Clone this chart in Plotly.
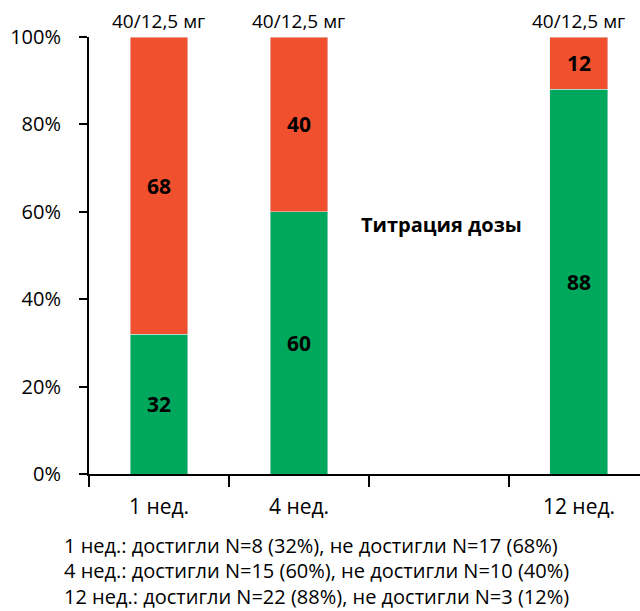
import plotly.graph_objects as go

# Weeks of treatment; a blank slot separates week 4 from week 12
categories = ["1 нед.", "4 нед.", " ", "12 нед."]
weeks = ["1 нед.", "4 нед.", "12 нед."]
reached = [32, 60, 88]        # % of patients who reached target
not_reached = [68, 40, 12]    # % of patients who did not
y_ticks = [0, 20, 40, 60, 80, 100]
y_tick_labels = ["0%", "20%", "40%", "60%", "80%", "100%"]
dose_labels = ["40/12,5 мг", "40/12,5 мг", "40/12,5 мг"]
titration_note = "Титрация дозы"
summary_lines = [
    "1 нед.: достигли N=8 (32%), не достигли N=17 (68%)",
    "4 нед.: достигли N=15 (60%), не достигли N=10 (40%)",
    "12 нед.: достигли N=22 (88%), не достигли N=3 (12%)",
]

FONT = "Open Sans"
GREEN = "#00A85D"
RED = "#F1502F"
label_font = dict(family=FONT, size=21, color="black", weight="bold")

PLOT_TOP, PLOT_H = 37, 437

fig = go.Figure()
fig.add_trace(go.Bar(
    x=weeks, y=reached, marker_color=GREEN, width=0.414,
    text=[str(v) for v in reached], textposition="inside",
    insidetextanchor="middle", textangle=0, textfont=label_font,
    hoverinfo="skip",
))
fig.add_trace(go.Bar(
    x=weeks, y=not_reached, marker_color=RED, width=0.414,
    text=[str(v) for v in not_reached], textposition="inside",
    insidetextanchor="middle", textangle=0, textfont=label_font,
    hoverinfo="skip",
))

# Dose above each bar
for w, lab in zip(weeks, dose_labels):
    fig.add_annotation(x=w, y=100, text=lab, showarrow=False,
                       yanchor="bottom", yshift=1,
                       font=dict(family=FONT, size=19, color="black"))

fig.add_annotation(x=2, y=57, text=titration_note, showarrow=False,
                   xanchor="center", yanchor="middle", xshift=3,
                   font=dict(family=FONT, size=20, color="black", weight="bold"))

# Summary lines below the chart, one annotation per line
for i, line in enumerate(summary_lines):
    py = 545 + 25.5 * i  # pixel row of the line centre
    fig.add_annotation(xref="paper", yref="paper", x=-0.047,
                       y=(PLOT_TOP + PLOT_H - py) / PLOT_H,
                       xanchor="left", yanchor="middle", align="left",
                       text=line, showarrow=False, borderpad=0,
                       font=dict(family=FONT, size=20, color="black"))

fig.update_layout(
    barmode="stack",
    width=640, height=611,
    margin=dict(l=89, r=0, t=PLOT_TOP, b=611 - PLOT_TOP - PLOT_H),
    plot_bgcolor="white", paper_bgcolor="white",
    showlegend=False,
    font=dict(family=FONT, color="black"),
    xaxis=dict(
        type="category", categoryorder="array", categoryarray=categories,
        range=[-0.5, 3.436], tickson="boundaries",
        ticks="outside", ticklen=11, tickwidth=2, tickcolor="black",
        showline=True, linecolor="black", linewidth=2,
        showgrid=False, zeroline=False, ticklabelstandoff=13,
        tickfont=dict(family=FONT, size=21, color="black"),
    ),
    yaxis=dict(
        range=[0, 100], tickvals=y_ticks, ticktext=y_tick_labels,
        ticks="outside", ticklen=8, tickwidth=2, tickcolor="black",
        showline=True, linecolor="black", linewidth=2,
        showgrid=False, zeroline=False, ticklabelstandoff=14,
        tickfont=dict(family=FONT, size=20, color="black"),
    ),
)

fig.write_html("out.html")
